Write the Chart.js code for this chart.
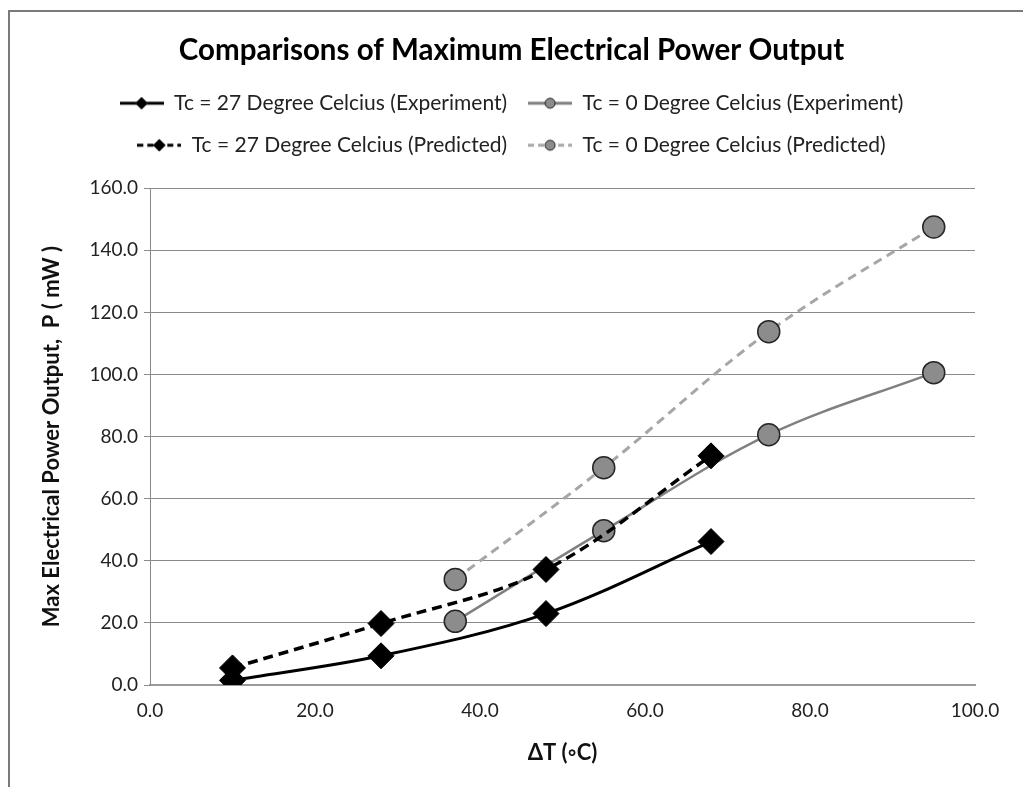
<!DOCTYPE html>
<html>
<head>
<meta charset="utf-8">
<script src="https://cdn.jsdelivr.net/npm/chart.js@4/dist/chart.umd.min.js"></script>
<style>
  html, body { margin: 0; padding: 0; background: #fff; }
  #wrap { position: relative; width: 1023px; height: 787px; }
</style>
</head>
<body>
<div id="wrap"><canvas id="powerChart"></canvas></div>
<script>
// ΔT values (Th - Tc) for each cold-side temperature
const deltaT27 = [10, 28, 48, 68];
const deltaT0 = [37, 55, 75, 95];

// max power output, mW
const powerExp27 = [1.5, 9.4, 23.0, 46.2];
const powerPred27 = [5.5, 19.8, 37.2, 73.8];
const powerExp0 = [20.5, 49.7, 80.6, 100.6];
const powerPred0 = [34.0, 70.0, 113.8, 147.5];

const seriesNames = [
  'Tc = 27 Degree Celcius (Experiment)',
  'Tc = 0 Degree Celcius (Experiment)',
  'Tc = 27 Degree Celcius (Predicted)',
  'Tc = 0 Degree Celcius (Predicted)'
];

const FONT = "Lato, 'Open Sans', sans-serif";

function toPoints(xs, ys) {
  return xs.map((x, i) => ({ x: x, y: ys[i] }));
}

// legend icon: line segment with a small marker in the middle
function legendIcon(color, dash, shape, fill) {
  const c = document.createElement('canvas');
  c.width = 44;
  c.height = 16;
  const g = c.getContext('2d');
  g.strokeStyle = color;
  g.lineWidth = 3;
  g.setLineDash(dash);
  g.beginPath();
  g.moveTo(0, 8);
  g.lineTo(44, 8);
  g.stroke();
  g.setLineDash([]);
  g.fillStyle = fill;
  g.strokeStyle = '#222';
  g.lineWidth = 1;
  g.beginPath();
  if (shape === 'diamond') {
    g.moveTo(22, 2); g.lineTo(28, 8); g.lineTo(22, 14); g.lineTo(16, 8); g.closePath();
  } else {
    g.arc(22, 8, 5, 0, Math.PI * 2);
  }
  g.fill();
  g.stroke();
  return c;
}

const legendIcons = [
  legendIcon('#000', [], 'diamond', '#000'),
  legendIcon('#808080', [], 'circle', '#8c8c8c'),
  legendIcon('#000', [6, 4], 'diamond', '#000'),
  legendIcon('#a6a6a6', [6, 4], 'circle', '#8c8c8c')
];

// frame around the picture (left and top edges only)
const framePlugin = {
  id: 'frame',
  beforeDraw(chart) {
    const g = chart.ctx;
    g.save();
    g.strokeStyle = '#7a7a7a';
    g.lineWidth = 2;
    g.beginPath();
    g.moveTo(9, 787);
    g.lineTo(9, 11);
    g.lineTo(1023, 11);
    g.stroke();
    g.restore();
  }
};

const ctx = document.getElementById('powerChart');
new Chart(ctx, {
  type: 'line',
  data: {
    datasets: [
      {
        label: seriesNames[0],
        data: toPoints(deltaT27, powerExp27),
        borderColor: '#000',
        borderWidth: 3,
        pointStyle: 'rectRot',
        pointRadius: 13,
        pointBackgroundColor: '#000',
        pointBorderColor: '#000',
        pointBorderWidth: 1,
        tension: 0.35,
        order: 4
      },
      {
        label: seriesNames[1],
        data: toPoints(deltaT0, powerExp0),
        borderColor: '#808080',
        borderWidth: 2.5,
        pointStyle: 'circle',
        pointRadius: 11,
        pointBackgroundColor: '#8c8c8c',
        pointBorderColor: '#262626',
        pointBorderWidth: 1.5,
        tension: 0.35,
        order: 3
      },
      {
        label: seriesNames[2],
        data: toPoints(deltaT27, powerPred27),
        borderColor: '#000',
        borderWidth: 3.5,
        borderDash: [10, 6],
        pointStyle: 'rectRot',
        pointRadius: 13,
        pointBackgroundColor: '#000',
        pointBorderColor: '#000',
        pointBorderWidth: 1,
        tension: 0.35,
        order: 2
      },
      {
        label: seriesNames[3],
        data: toPoints(deltaT0, powerPred0),
        borderColor: '#a6a6a6',
        borderWidth: 3,
        borderDash: [9, 6],
        pointStyle: 'circle',
        pointRadius: 11,
        pointBackgroundColor: '#8c8c8c',
        pointBorderColor: '#262626',
        pointBorderWidth: 1.5,
        tension: 0.35,
        order: 1
      }
    ]
  },
  options: {
    responsive: true,
    maintainAspectRatio: false,
    animation: false,
    events: [],
    layout: { padding: 0 },
    plugins: {
      title: {
        display: true,
        text: 'Comparisons of Maximum Electrical Power Output',
        color: '#000',
        font: { size: 29.5, weight: 'bold', family: FONT },
        padding: { top: 32.3, bottom: 4 }
      },
      subtitle: {
        // spacer between the legend and the plot
        display: true,
        text: '',
        weight: 500,
        font: { size: 1, lineHeight: 1 },
        padding: { top: 21.5, bottom: 0 }
      },
      legend: {
        position: 'top',
        labels: {
          usePointStyle: true,
          pointStyleWidth: 44,
          color: '#222',
          padding: 21,
          font: { size: 21, family: FONT },
          sort: (a, b) => a.datasetIndex - b.datasetIndex,
          generateLabels: function(chart) {
            const items = Chart.defaults.plugins.legend.labels.generateLabels(chart);
            items.forEach(it => { it.pointStyle = legendIcons[it.datasetIndex]; });
            return items;
          }
        }
      },
      tooltip: { enabled: false }
    },
    scales: {
      x: {
        type: 'linear',
        min: 0,
        max: 100,
        afterFit: function(scale) { scale.height = 102; },
        grid: { display: false, drawTicks: false },
        border: { display: true, color: '#9a9a9a', width: 2 },
        ticks: {
          stepSize: 20,
          padding: 14,
          color: '#222',
          font: { size: 19, family: FONT },
          callback: v => v.toFixed(1)
        },
        title: {
          display: true,
          text: 'ΔT (◦C)',
          color: '#111',
          font: { size: 22, weight: 'bold', family: FONT },
          padding: { top: 0, bottom: 21 }
        }
      },
      y: {
        min: 0,
        max: 160,
        afterFit: function(scale) { scale.width = 150; },
        grid: { color: '#8a8a8a', lineWidth: 1, tickLength: 6 },
        border: { display: true, color: '#8a8a8a', width: 1 },
        ticks: {
          stepSize: 20,
          padding: 6,
          color: '#222',
          font: { size: 19, family: FONT },
          callback: v => v.toFixed(1)
        },
        title: {
          display: true,
          text: 'Max Electrical Power Output,  P ( mW )',
          color: '#111',
          font: { size: 22, weight: 'bold', family: FONT },
          padding: { top: 38.8, bottom: 0 }
        }
      },
      // empty right-hand margin so the plot ends at ΔT = 100 like the original
      yRight: {
        position: 'right',
        afterFit: function(scale) { scale.width = 48; },
        grid: { display: false, drawTicks: false },
        border: { display: false },
        ticks: { display: false }
      }
    }
  },
  plugins: [framePlugin]
});
</script>
</body>
</html>
